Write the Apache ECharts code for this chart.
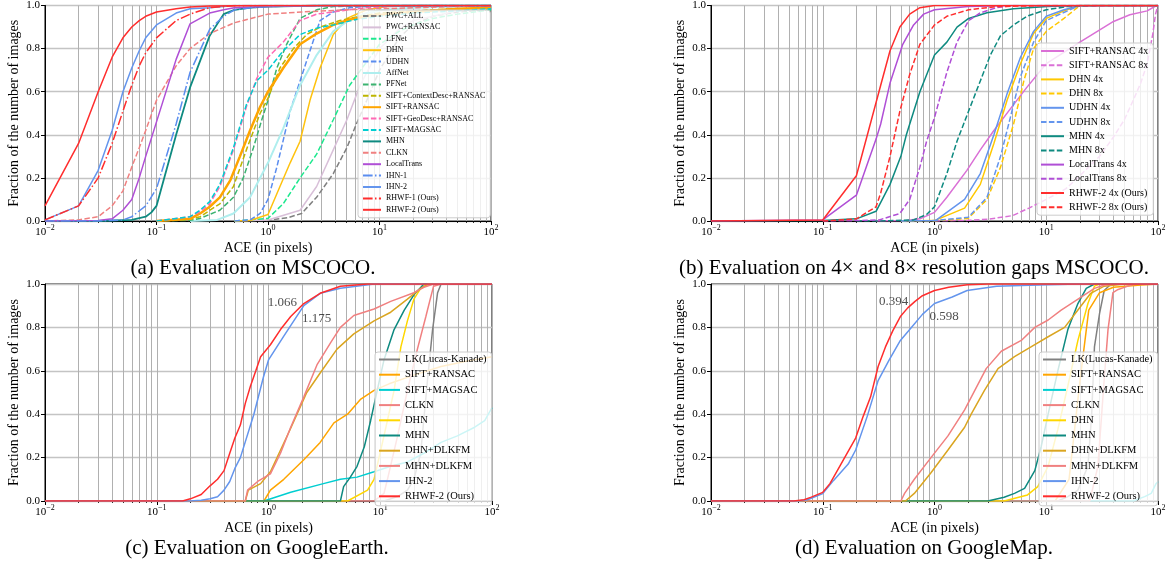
<!DOCTYPE html>
<html><head><meta charset="utf-8">
<script src="https://cdn.jsdelivr.net/npm/echarts@6/dist/echarts.min.js"></script>
<style>html,body{margin:0;padding:0;background:#fff}#c{width:1170px;height:567px}</style>
</head><body><div id="c"></div>
<script>
// ---------------- DATA ----------------
const X_MIN = 0.01, X_MAX = 100;
const Y_TICK_STEP = 0.2;
const X_LABEL = 'ACE (in pixels)';
const Y_LABEL = 'Fraction of the number of images';
const CAPTIONS = ['(a) Evaluation on MSCOCO.', '(b) Evaluation on 4\u00d7 and 8\u00d7 resolution gaps MSCOCO.', '(c) Evaluation on GoogleEarth.', '(d) Evaluation on GoogleMap.'];

// (a) MSCOCO
const A_NAMES = ['PWC+ALL','PWC+RANSAC','LFNet','DHN','UDHN','AffNet','PFNet','SIFT+ContextDesc+RANSAC','SIFT+RANSAC','SIFT+GeoDesc+RANSAC','SIFT+MAGSAC','MHN','CLKN','LocalTrans','IHN-1','IHN-2','RHWF-1 (Ours)','RHWF-2 (Ours)'];
const A_PWC_ALL = [[0.5,0],[1,0.003],[1.5,0.015],[2,0.035],[2.73,0.11],[3.85,0.22],[5.1,0.34],[6.2,0.45],[7.7,0.56],[10,0.7],[15,0.85],[20,0.91],[30,0.95],[50,0.97],[100,0.98]];
const A_PWC_RANSAC = [[0.5,0],[1,0.005],[1.94,0.05],[2.73,0.16],[3.85,0.33],[5.1,0.47],[6.7,0.63],[10,0.8],[15,0.89],[20,0.93],[50,0.975],[100,0.99]];
const A_LFNET = [[0.5,0],[1,0.012],[1.37,0.08],[1.94,0.2],[2.73,0.31],[3.85,0.47],[5.4,0.63],[7.7,0.74],[10,0.82],[15,0.88],[20,0.91],[30,0.94],[50,0.96],[100,0.98]];
const A_DHN = [[0.5,0],[0.69,0.002],[1,0.03],[1.28,0.16],[1.58,0.27],[1.94,0.37],[2.38,0.56],[2.93,0.71],[3.85,0.865],[5.1,0.94],[7.7,0.98],[11.6,0.995],[20,1],[100,1]];
const A_UDHN = [[0.5,0],[0.69,0.005],[0.85,0.035],[1,0.1],[1.2,0.25],[1.58,0.51],[1.94,0.65],[2.38,0.79],[2.93,0.93],[3.85,0.97],[5.4,0.99],[10,1],[100,1]];
const A_AFFNET = [[0.2,0],[0.35,0.005],[0.49,0.035],[0.69,0.11],[1,0.27],[1.37,0.43],[1.94,0.63],[2.73,0.77],[3.85,0.88],[5.4,0.935],[7.7,0.965],[10.9,0.98],[20,0.99],[100,1]];
const A_PFNET = [[0.1,0],[0.2,0.003],[0.246,0.012],[0.37,0.05],[0.49,0.11],[0.6,0.2],[0.74,0.34],[0.88,0.47],[1,0.56],[1.2,0.71],[1.47,0.82],[1.94,0.94],[2.73,0.98],[3.85,0.995],[10,1],[100,1]];
const A_CONTEXTDESC = [[0.1,0],[0.2,0.008],[0.246,0.02],[0.37,0.08],[0.49,0.16],[0.64,0.33],[0.85,0.5],[1,0.57],[1.28,0.71],[1.69,0.8],[2.22,0.865],[2.93,0.9],[4.4,0.93],[6.7,0.95],[10,0.965],[30,0.98],[100,0.99]];
const A_SIFT_RANSAC = [[0.1,0],[0.2,0.01],[0.246,0.035],[0.3,0.066],[0.37,0.11],[0.46,0.19],[0.56,0.3],[0.69,0.42],[0.85,0.53],[1,0.6],[1.37,0.71],[1.94,0.82],[2.73,0.87],[3.85,0.91],[5.4,0.935],[7.7,0.95],[11.6,0.96],[20,0.97],[50,0.985],[100,0.99]];
const A_GEODESC = [[0.1,0],[0.2,0.02],[0.246,0.043],[0.3,0.08],[0.37,0.16],[0.49,0.33],[0.64,0.53],[0.79,0.66],[1,0.76],[1.37,0.83],[1.94,0.93],[2.73,0.96],[3.85,0.97],[7.7,0.99],[20,1],[100,1]];
const A_MAGSAC = [[0.1,0],[0.2,0.02],[0.246,0.05],[0.3,0.09],[0.37,0.17],[0.49,0.34],[0.64,0.54],[0.79,0.65],[1,0.7],[1.37,0.79],[1.94,0.865],[2.73,0.895],[3.85,0.91],[6.2,0.935],[10,0.95],[20,0.965],[50,0.975],[100,0.985]];
const A_MHN = [[0.01,0],[0.03,0],[0.06,0.005],[0.08,0.02],[0.09,0.04],[0.1,0.07],[0.15,0.4],[0.2,0.62],[0.3,0.86],[0.4,0.96],[0.5,0.98],[0.7,0.99],[1,0.995],[3,1],[100,1]];
const A_CLKN = [[0.01,0],[0.02,0.005],[0.03,0.02],[0.04,0.07],[0.05,0.14],[0.06,0.25],[0.07,0.34],[0.08,0.42],[0.1,0.56],[0.15,0.72],[0.2,0.8],[0.3,0.87],[0.5,0.92],[1,0.96],[2,0.97],[5,0.98],[10,0.985],[100,1]];
const A_LOCALTRANS = [[0.01,0],[0.03,0.002],[0.04,0.01],[0.05,0.05],[0.06,0.1],[0.07,0.2],[0.08,0.3],[0.1,0.46],[0.15,0.75],[0.2,0.915],[0.3,0.965],[0.4,0.98],[0.5,0.99],[1,0.995],[3,1],[100,1]];
const A_IHN1 = [[0.01,0],[0.03,0],[0.05,0.005],[0.06,0.02],[0.08,0.07],[0.1,0.15],[0.15,0.45],[0.2,0.69],[0.3,0.89],[0.4,0.95],[0.5,0.98],[0.7,0.99],[1,0.995],[3,1],[100,1]];
const A_IHN2 = [[0.01,0.005],[0.02,0.07],[0.03,0.235],[0.04,0.42],[0.05,0.6],[0.06,0.71],[0.07,0.79],[0.08,0.85],[0.1,0.91],[0.15,0.965],[0.2,0.985],[0.3,0.99],[0.5,1],[100,1]];
const A_RHWF1 = [[0.01,0.005],[0.02,0.07],[0.03,0.2],[0.04,0.36],[0.05,0.51],[0.06,0.63],[0.07,0.72],[0.08,0.78],[0.1,0.85],[0.15,0.93],[0.2,0.96],[0.3,0.99],[0.5,1],[100,1]];
const A_RHWF2 = [[0.01,0.07],[0.02,0.36],[0.03,0.6],[0.04,0.76],[0.05,0.85],[0.06,0.9],[0.07,0.93],[0.08,0.95],[0.1,0.97],[0.15,0.985],[0.2,0.993],[0.3,0.998],[1,1],[100,1]];
const A_DATA = [A_PWC_ALL,A_PWC_RANSAC,A_LFNET,A_DHN,A_UDHN,A_AFFNET,A_PFNET,A_CONTEXTDESC,A_SIFT_RANSAC,A_GEODESC,A_MAGSAC,A_MHN,A_CLKN,A_LOCALTRANS,A_IHN1,A_IHN2,A_RHWF1,A_RHWF2];

// (b) 4x / 8x resolution gaps
const B_NAMES = ['SIFT+RANSAC 4x','SIFT+RANSAC 8x','DHN 4x','DHN 8x','UDHN 4x','UDHN 8x','MHN 4x','MHN 8x','LocalTrans 4x','LocalTrans 8x','RHWF-2 4x (Ours)','RHWF-2 8x (Ours)'];
const B_SIFT4 = [[0.3,0],[0.56,0.002],[0.74,0.01],[1,0.04],[1.29,0.11],[1.95,0.235],[2.57,0.33],[3.4,0.42],[5.1,0.54],[6.7,0.62],[10,0.73],[20,0.83],[40,0.926],[56,0.957],[80,0.975],[97,1],[100,1]];
const B_SIFT8 = [[1,0],[2,0.003],[3,0.008],[5,0.025],[7,0.06],[10,0.1],[15,0.15],[20,0.21],[30,0.3],[40,0.39],[50,0.47],[60,0.56],[70,0.64],[80,0.73],[90,0.87],[95,0.96],[100,1]];
const B_DHN4 = [[0.5,0],[1,0.002],[1.86,0.06],[2.57,0.17],[3.4,0.36],[4.46,0.56],[5.88,0.73],[7.7,0.87],[10,0.94],[14.4,0.975],[20,1],[100,1]];
const B_DHN8 = [[0.5,0],[1,0.001],[2,0.012],[2.95,0.1],[3.9,0.25],[5.1,0.45],[6.3,0.65],[7.7,0.8],[10,0.88],[14.4,0.94],[20,1],[100,1]];
const B_UDHN4 = [[0.5,0],[1.02,0.002],[1.86,0.1],[2.57,0.22],[3.4,0.4],[4.46,0.59],[5.88,0.76],[7.7,0.88],[10,0.95],[14.4,0.98],[20.3,1],[100,1]];
const B_UDHN8 = [[0.5,0],[1,0.002],[2,0.017],[2.95,0.11],[3.9,0.3],[4.77,0.48],[5.88,0.67],[7.7,0.83],[10,0.93],[13.3,0.96],[20,1],[100,1]];
const B_MHN4 = [[0.01,0],[0.1,0.002],[0.2,0.01],[0.3,0.045],[0.4,0.17],[0.5,0.3],[0.56,0.4],[0.74,0.6],[1,0.77],[1.29,0.83],[1.59,0.9],[2.02,0.94],[2.95,0.966],[5.1,0.985],[10.2,0.995],[20,1],[100,1]];
const B_MHN8 = [[0.2,0],[0.32,0],[0.65,0.005],[0.85,0.03],[1,0.066],[1.29,0.22],[1.59,0.37],[2.02,0.51],[2.57,0.65],[3.16,0.77],[3.9,0.86],[5.1,0.91],[6.7,0.95],[10,0.98],[15.4,0.995],[30,1],[100,1]];
const B_LT4 = [[0.01,0],[0.1,0.005],[0.2,0.12],[0.3,0.38],[0.33,0.45],[0.4,0.64],[0.52,0.82],[0.65,0.91],[0.8,0.96],[1,0.98],[2,0.995],[5,1],[100,1]];
const B_LT8 = [[0.1,0],[0.2,0.002],[0.32,0.005],[0.49,0.035],[0.6,0.1],[0.74,0.25],[0.85,0.37],[1,0.48],[1.29,0.69],[1.59,0.83],[2.02,0.93],[2.57,0.966],[3.6,0.99],[5.1,1],[100,1]];
const B_RH4 = [[0.01,0],[0.1,0.005],[0.2,0.21],[0.3,0.55],[0.33,0.63],[0.4,0.79],[0.49,0.9],[0.6,0.96],[0.74,0.99],[1,1],[100,1]];
const B_RH8 = [[0.1,0],[0.2,0.01],[0.3,0.066],[0.33,0.13],[0.4,0.3],[0.49,0.51],[0.6,0.68],[0.74,0.82],[1,0.91],[1.29,0.95],[2.02,0.98],[3.6,0.995],[10,1],[100,1]];
const B_DATA = [B_SIFT4,B_SIFT8,B_DHN4,B_DHN8,B_UDHN4,B_UDHN8,B_MHN4,B_MHN8,B_LT4,B_LT8,B_RH4,B_RH8];

// (c) GoogleEarth
const CD_NAMES = ['LK(Lucas-Kanade)','SIFT+RANSAC','SIFT+MAGSAC','CLKN','DHN','MHN','DHN+DLKFM','MHN+DLKFM','IHN-2','RHWF-2 (Ours)'];
const C_LK = [[0.01,0],[10.8,0],[14.3,0.02],[17.5,0.05],[20,0.1],[23,0.22],[26.5,0.56],[29.4,0.79],[32.6,0.96],[35,1],[100,1]];
const C_SIFT_RANSAC = [[0.01,0],[0.91,0],[1.04,0.05],[1.37,0.1],[2.07,0.19],[2.9,0.27],[3.85,0.36],[5.1,0.4],[6.7,0.47],[8.8,0.51],[12,0.54],[20,0.58],[35,0.62],[60,0.645],[100,0.665]];
const C_MAGSAC = [[0.01,0],[0.91,0],[1.58,0.04],[3.1,0.08],[4.4,0.1],[6.2,0.11],[8.8,0.135],[12.4,0.16],[17.5,0.18],[24.6,0.22],[35,0.27],[49,0.3],[70,0.34],[86,0.37],[100,0.43]];
const C_CLKN = [[0.01,0],[8.8,0],[10.8,0.035],[11.6,0.1],[14.3,0.3],[17.5,0.51],[21.5,0.7],[25.6,0.85],[28,0.93],[30,0.99],[35,1],[100,1]];
const C_DHN = [[0.01,0],[5.1,0],[7.7,0.05],[8.8,0.1],[10.8,0.3],[13.3,0.51],[15.3,0.71],[17.5,0.83],[20,0.93],[23,0.98],[27,1],[100,1]];
const C_MHN = [[0.01,0],[4.4,0],[4.7,0.066],[5.4,0.11],[6.2,0.16],[7.2,0.25],[8.2,0.37],[9.4,0.51],[10.8,0.65],[13.3,0.79],[16.4,0.88],[20,0.95],[24.6,1],[100,1]];
const C_DHN_DLKFM = [[0.01,0],[0.62,0],[0.66,0.05],[0.85,0.08],[1.04,0.135],[1.58,0.335],[2.2,0.5],[2.9,0.59],[4.1,0.7],[5.8,0.77],[8.8,0.83],[12.4,0.87],[17.5,0.93],[23,0.98],[27,1],[100,1]];
const C_MHN_DLKFM = [[0.01,0],[0.62,0],[0.65,0.05],[0.8,0.09],[1.04,0.125],[1.28,0.22],[1.58,0.34],[2.07,0.48],[2.73,0.63],[3.6,0.73],[4.4,0.8],[5.8,0.855],[8.8,0.885],[12.4,0.92],[20,0.96],[24.6,0.985],[30,1],[100,1]];
const C_IHN2 = [[0.01,0],[0.2,0],[0.25,0.003],[0.3,0.01],[0.35,0.02],[0.4,0.05],[0.45,0.09],[0.5,0.15],[0.56,0.2],[0.74,0.4],[0.9,0.57],[1,0.65],[1.37,0.76],[2.07,0.9],[2.9,0.957],[4.4,0.98],[8.8,1],[100,1]];
const C_RHWF2 = [[0.01,0],[0.17,0],[0.2,0.01],[0.25,0.03],[0.3,0.07],[0.35,0.1],[0.4,0.14],[0.45,0.22],[0.5,0.29],[0.56,0.35],[0.62,0.45],[0.69,0.53],[0.77,0.6],[0.85,0.665],[1.04,0.72],[1.28,0.79],[1.58,0.85],[2.07,0.91],[2.9,0.957],[4.4,0.99],[7.7,1],[100,1]];
const C_DATA = [C_LK,C_SIFT_RANSAC,C_MAGSAC,C_CLKN,C_DHN,C_MHN,C_DHN_DLKFM,C_MHN_DLKFM,C_IHN2,C_RHWF2];
const C_NOTES = [[1.33,0.914,'1.066'],[2.7,0.839,'1.175']];

// (d) GoogleMap
const D_LK = [[0.01,0],[12.7,0],[15.6,0.02],[19.2,0.05],[23.6,0.16],[25.5,0.4],[27,0.71],[30,0.865],[33,0.97],[38,1],[100,1]];
const D_SIFT_RANSAC = [[0.01,0],[12,0],[16,0.1],[20,0.55],[24,0.88],[30,0.96],[40,0.985],[70,0.995],[100,1]];
const D_MAGSAC = [[0.01,0],[60,0],[76,0.02],[87,0.035],[96,0.08],[100,0.09]];
const D_CLKN = [[0.01,0],[24.5,0],[29,0.16],[33,0.56],[35.7,0.79],[39.5,0.96],[44,0.975],[57,0.995],[66,1],[100,1]];
const D_DHN = [[0.01,0],[4.2,0],[6.8,0.028],[8.4,0.066],[10.4,0.16],[12.7,0.33],[15.6,0.53],[19.2,0.74],[23.6,0.91],[27,0.99],[30,1],[100,1]];
const D_MHN = [[0.01,0],[3,0],[4.2,0.017],[5.2,0.035],[6.4,0.058],[7.9,0.14],[9,0.25],[10.4,0.4],[12.7,0.6],[15.6,0.79],[19.2,0.91],[22.8,0.98],[27,1],[100,1]];
const D_DHN_DLKFM = [[0.01,0],[0.55,0],[0.66,0.035],[0.93,0.13],[1.32,0.235],[1.86,0.34],[2.13,0.4],[2.8,0.51],[3.7,0.61],[5.2,0.665],[7.3,0.71],[10.4,0.757],[14.6,0.8],[19.2,0.88],[25,0.957],[33,0.99],[50,1],[100,1]];
const D_MHN_DLKFM = [[0.01,0],[0.5,0],[0.54,0.035],[0.66,0.1],[0.93,0.2],[1.32,0.3],[1.86,0.42],[2.9,0.61],[3.96,0.69],[5.98,0.74],[7.9,0.8],[10.4,0.834],[13.6,0.88],[16.7,0.91],[22,0.95],[27,0.98],[33,0.995],[45,1],[100,1]];
const D_IHN2 = [[0.01,0],[0.06,0],[0.073,0.006],[0.1,0.034],[0.125,0.095],[0.169,0.17],[0.197,0.235],[0.25,0.39],[0.313,0.555],[0.39,0.647],[0.495,0.74],[0.6,0.79],[0.78,0.86],[1,0.91],[1.44,0.94],[1.96,0.97],[3.6,0.99],[10,0.997],[20,1],[100,1]];
const D_RHWF2 = [[0.01,0],[0.055,0],[0.068,0.006],[0.079,0.018],[0.1,0.04],[0.116,0.08],[0.135,0.14],[0.157,0.2],[0.197,0.29],[0.23,0.39],[0.268,0.48],[0.313,0.62],[0.364,0.71],[0.424,0.785],[0.495,0.85],[0.576,0.89],[0.67,0.92],[0.78,0.946],[1,0.97],[1.34,0.985],[1.96,0.997],[3,1],[100,1]];
const D_DATA = [D_LK,D_SIFT_RANSAC,D_MAGSAC,D_CLKN,D_DHN,D_MHN,D_DHN_DLKFM,D_MHN_DLKFM,D_IHN2,D_RHWF2];
const D_NOTES = [[0.43,0.92,'0.394'],[1.22,0.85,'0.598']];

// ---------------- STYLES ----------------
const A_COLORS = ['#808080','#D8BFD8','#1DE88E','#FFC20E','#5B8DEF','#AFEEEE','#3CB371','#BDB500','#FFA500','#FF69B4','#00CED1','#0E8A80','#F08080','#B04FD6','#5B8DEF','#6495ED','#FF2D2D','#FF2D2D'];
const A_TYPES = ['dashed','solid','dashed','solid','dashed','solid','dashed','dashed','solid','dashed','dashed','solid','dashed','solid','dashdot','solid','dashdot','solid'];
const A_WIDTHS = [1.5,1.5,1.5,1.5,1.5,2,1.5,1.5,2.5,1.5,1.5,1.8,1.5,1.5,1.5,1.5,1.5,1.5];
const B_COLORS = ['#DA70D6','#DA70D6','#FFC800','#FFC800','#6495ED','#6495ED','#0E8A80','#0E8A80','#B04FD6','#B04FD6','#FF2D2D','#FF2D2D'];
const B_TYPES = ['solid','dashed','solid','dashed','solid','dashed','solid','dashed','solid','dashed','solid','dashed'];
const CD_COLORS = ['#808080','#FFA500','#00CED1','#F08080','#FFD700','#0E8A80','#DAA520','#F08080','#6495ED','#FF2D2D'];
const FONT = "'Liberation Serif','DejaVu Serif','Times New Roman',serif";
const DASH = { dashed: [5.5, 2.4], dashdot: [9.6, 2.4, 1.5, 2.4], solid: 'solid' };

const LAYOUT = [
  { grid: {left: 45, top: 4, width: 446, height: 217}, legend: {left: 358, top: 10, itemWidth: 18, itemHeight: 8, itemGap: 3.4, fontSize: 8, padding: [2,5,4,4]}, cap: {x: 253, y: 258} },
  { grid: {left: 711, top: 4, width: 447, height: 217}, legend: {left: 1037, top: 43, itemWidth: 23, itemHeight: 10, itemGap: 4.2, fontSize: 10, padding: [3,5,3,3]}, cap: {x: 914, y: 258} },
  { grid: {left: 45, top: 284, width: 447, height: 217}, legend: {left: 375, top: 352, itemWidth: 21, itemHeight: 10, itemGap: 4.2, fontSize: 10.5, padding: [2,5,4,3]}, cap: {x: 257, y: 538} },
  { grid: {left: 711, top: 284, width: 447, height: 217}, legend: {left: 1039, top: 352, itemWidth: 23, itemHeight: 10, itemGap: 4.2, fontSize: 10.5, padding: [2,5,4,3]}, cap: {x: 924, y: 538} }
];

const PANELS = [
  { key: 'a', names: A_NAMES, data: A_DATA, colors: A_COLORS, types: A_TYPES, widths: A_WIDTHS, notes: [] },
  { key: 'b', names: B_NAMES, data: B_DATA, colors: B_COLORS, types: B_TYPES, widths: null, notes: [] },
  { key: 'c', names: CD_NAMES, data: C_DATA, colors: CD_COLORS, types: null, widths: null, notes: C_NOTES },
  { key: 'd', names: CD_NAMES, data: D_DATA, colors: CD_COLORS, types: null, widths: null, notes: D_NOTES }
];

// minor grid / tick positions on the log axis (2..9 x 10^k)
const MINOR_X = [];
for (let e = -2; e < 2; e++) for (let m = 2; m <= 9; m++) MINOR_X.push(+(m * Math.pow(10, e)).toPrecision(3));

// ---------------- BUILD ----------------
const grids = [], xAxes = [], yAxes = [], series = [], legends = [], titles = [];
PANELS.forEach((p, i) => {
  const L = LAYOUT[i];
  grids.push(Object.assign({show: true, borderColor: '#000', borderWidth: 1, backgroundColor: 'transparent'}, L.grid));
  xAxes.push({
    type: 'log', logBase: 10, min: X_MIN, max: X_MAX, gridIndex: i,
    name: X_LABEL, nameLocation: 'middle', nameGap: 20,
    nameTextStyle: {fontFamily: FONT, fontSize: 14, color: '#000'},
    axisLine: {show: true, lineStyle: {color: '#000', width: 1}},
    axisTick: {show: true, inside: false, length: 4, lineStyle: {color: '#000'}},
    splitLine: {show: true, lineStyle: {color: '#b0b0b0', width: 1}},
    axisLabel: {
      margin: 3,
      formatter: v => { const e = Math.round(Math.log10(v)); return '{b|10}{e|' + (e < 0 ? '\u2212' + (-e) : e) + '}'; },
      rich: {
        b: {fontFamily: FONT, fontSize: 11, color: '#000', verticalAlign: 'bottom'},
        e: {fontFamily: FONT, fontSize: 8, color: '#000', verticalAlign: 'bottom', padding: [0, 0, 6, 0]}
      }
    }
  });
  yAxes.push({
    type: 'value', min: 0, max: 1, interval: Y_TICK_STEP, gridIndex: i,
    name: Y_LABEL, nameLocation: 'middle', nameGap: 24, nameRotate: 90,
    nameTextStyle: {fontFamily: FONT, fontSize: 14, color: '#000'},
    axisLine: {show: true, lineStyle: {color: '#000', width: 1}},
    axisTick: {show: true, inside: false, length: 4, lineStyle: {color: '#000'}},
    splitLine: {show: true, lineStyle: {color: '#c4c4c4', width: 1.3}},
    axisLabel: {margin: 5, fontFamily: FONT, fontSize: 11, color: '#000', formatter: v => v.toFixed(1)}
  });
  // minor vertical grid lines through the log scale
  series.push({
    type: 'line', xAxisIndex: i, yAxisIndex: i, data: [[X_MIN, 0]], z: 1, silent: true,
    showSymbol: false, symbol: 'none', lineStyle: {opacity: 0},
    markLine: {silent: true, z: 1, animation: false, symbol: ['none', 'none'], label: {show: false},
      lineStyle: {color: '#b0b0b0', width: 1, type: 'solid'},
      emphasis: {disabled: true},
      data: MINOR_X.map(v => ({xAxis: v}))}
  });
  p.names.forEach((n, k) => {
    const t = p.types ? p.types[k] : 'solid';
    series.push({
      type: 'line', name: p.key + '|' + n, xAxisIndex: i, yAxisIndex: i,
      data: p.data[k], symbol: 'none', showSymbol: false, smooth: false, z: 2,
      color: p.colors[k],
      lineStyle: {color: p.colors[k], width: p.widths ? p.widths[k] : 1.5, type: DASH[t]},
      emphasis: {disabled: true}, silent: true
    });
  });
  if (p.notes.length) {
    series.push({
      type: 'scatter', xAxisIndex: i, yAxisIndex: i, symbolSize: 0, z: 3, silent: true,
      data: p.notes,
      label: {show: true, position: 'inside', formatter: q => q.value[2], fontFamily: FONT, fontSize: 13, color: '#222'}
    });
  }
  legends.push({
    data: p.names.map(n => p.key + '|' + n),
    formatter: nm => nm.slice(nm.indexOf('|') + 1),
    orient: 'vertical', left: L.legend.left, top: L.legend.top,
    itemWidth: L.legend.itemWidth, itemHeight: L.legend.itemHeight, itemGap: L.legend.itemGap,
    padding: L.legend.padding,
    itemStyle: {opacity: 0},
    backgroundColor: 'rgba(255,255,255,0.8)', borderColor: '#cccccc', borderWidth: 1, borderRadius: 3,
    textStyle: {fontFamily: FONT, fontSize: L.legend.fontSize, color: '#000'},
    selectedMode: false
  });
  titles.push({
    text: CAPTIONS[i], left: L.cap.x, top: L.cap.y, textAlign: 'center', padding: 0,
    textStyle: {fontFamily: FONT, fontSize: 21, fontWeight: 'normal', color: '#000'}
  });
});
// secondary log axes carrying only the minor tick marks
PANELS.forEach((p, i) => {
  xAxes.push({
    type: 'log', logBase: 10, min: X_MIN, max: X_MAX, gridIndex: i, position: 'bottom',
    axisLine: {show: false}, axisLabel: {show: false}, splitLine: {show: false},
    axisTick: {show: true, inside: false, length: 2, customValues: MINOR_X, lineStyle: {color: '#000', width: 0.8}}
  });
});

const chart = echarts.init(document.getElementById('c'), null, {renderer: 'canvas'});
chart.setOption({
  animation: false,
  backgroundColor: '#fff',
  title: titles, grid: grids, xAxis: xAxes, yAxis: yAxes, legend: legends, series: series
});
</script></body></html>
